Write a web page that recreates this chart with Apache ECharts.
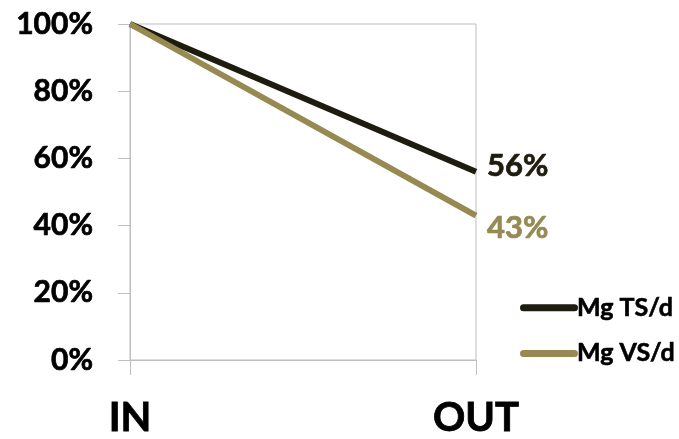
<!DOCTYPE html>
<html><head><meta charset="utf-8">
<script src="https://cdn.jsdelivr.net/npm/echarts@6/dist/echarts.min.js"></script>
<style>html,body{margin:0;padding:0;background:#fff}#c{width:679px;height:439px}</style>
</head><body><div id="c"></div>
<script>
const categories = ['IN', 'OUT'];
const tsValues = [100, 56];
const vsValues = [100, 43];
const seriesNames = ['Mg TS/d', 'Mg VS/d'];

const FONT = 'Lato';
const CAPSULE = 'path://M3.5,0 H54.5 A3.5,3.5 0 0 1 54.5,7 H3.5 A3.5,3.5 0 0 1 3.5,0 Z';
const chart = echarts.init(document.getElementById('c'), null, {renderer: 'canvas'});
chart.setOption({
  animation: false,
  backgroundColor: '#fff',
  grid: {left: 130, top: 24, right: 203, bottom: 79, show: true, borderColor: '#bfbfbf', borderWidth: 1},
  legend: {
    orient: 'vertical', left: 515, top: 290, itemWidth: 58, itemHeight: 7, itemGap: 20,
    icon: CAPSULE,
    textStyle: {fontFamily: FONT, fontWeight: 'bold', fontSize: 25, color: '#000', lineHeight: 24, padding: [0,0,0,-6],
                textBorderColor: '#000', textBorderWidth: 0.6},
    data: seriesNames
  },
  xAxis: {
    type: 'category', data: categories, boundaryGap: false,
    axisLine: {lineStyle: {color: '#bfbfbf', width: 1}},
    axisTick: {show: true, length: 15, lineStyle: {color: '#bfbfbf'}},
    axisLabel: {fontFamily: FONT, fontWeight: 'bold', fontSize: 40, color: '#000', margin: 38,
                textBorderColor: '#000', textBorderWidth: 0.8},
    splitLine: {show: false}
  },
  yAxis: {
    type: 'value', min: 0, max: 100, interval: 20,
    axisLine: {show: true, lineStyle: {color: '#bfbfbf', width: 1}},
    axisTick: {show: true, length: 12, lineStyle: {color: '#bfbfbf'}},
    axisLabel: {fontFamily: FONT, fontWeight: 'bold', fontSize: 30, color: '#000', margin: 37, formatter: '{value}%',
                textBorderColor: '#000', textBorderWidth: 0.7},
    splitLine: {show: false}
  },
  series: [
    {name: seriesNames[0], type: 'line', data: tsValues, symbol: 'none',
     lineStyle: {color: '#1e1b0f', width: 6}, itemStyle: {color: '#1e1b0f'},
     endLabel: {show: true, formatter: '{c}%', distance: 11, offset: [0, -6], fontFamily: FONT, fontWeight: 'bold', fontSize: 31, color: '#1e1b0f',
                textBorderColor: '#1e1b0f', textBorderWidth: 0.7}},
    {name: seriesNames[1], type: 'line', data: vsValues, symbol: 'none',
     lineStyle: {color: '#968a52', width: 6}, itemStyle: {color: '#968a52'},
     endLabel: {show: true, formatter: '{c}%', distance: 11, offset: [0, 12], fontFamily: FONT, fontWeight: 'bold', fontSize: 31, color: '#968a52',
                textBorderColor: '#968a52', textBorderWidth: 0.7}}
  ]
});
</script></body></html>
